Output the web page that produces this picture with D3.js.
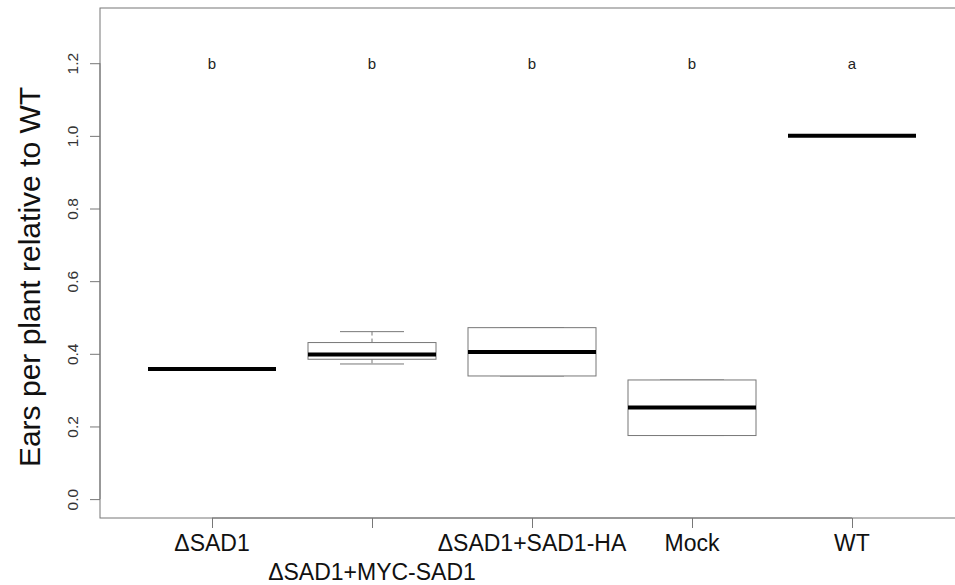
<!DOCTYPE html>
<html><head><meta charset="utf-8">
<script src="https://cdn.jsdelivr.net/npm/d3@7"></script>
<style>body{margin:0;background:#fff}svg{display:block}</style>
</head><body>
<svg id="c" width="955" height="585"></svg>
<script>
const categories = ["ΔSAD1","ΔSAD1+MYC-SAD1","ΔSAD1+SAD1-HA","Mock","WT"];
const whiskerLow = [0.358, 0.372, 0.339, 0.175, 1.0];
const q1 =        [0.358, 0.385, 0.339, 0.175, 1.0];
const median =    [0.358, 0.398, 0.405, 0.252, 1.0];
const q3 =        [0.358, 0.431, 0.472, 0.328, 1.0];
const whiskerHigh=[0.358, 0.461, 0.472, 0.328, 1.0];
const letters = ["b","b","b","b","a"];
const yTicks = [0, 0.2, 0.4, 0.6, 0.8, 1.0, 1.2];

const svg = d3.select("#c");
const L = 100, T = 8, B = 518;
const unit = 160;
const x = d3.scaleLinear().domain([0.3, 5.7]).range([L, L + 5.4*unit]);
const y = d3.scaleLinear().domain([-0.052, 1.352]).range([B, T]);
const gray = "#777";
const font = "Liberation Sans, Arial, Helvetica, sans-serif";

// plot frame
svg.append("rect").attr("x", x(0.3)).attr("y", y(1.352)).attr("width", x(5.7)-x(0.3)).attr("height", y(-0.052)-y(1.352))
  .attr("fill","none").attr("stroke", gray).attr("stroke-width",1);

// y axis
const yAxis = d3.axisLeft(y).tickValues(yTicks).tickFormat(d3.format(".1f")).tickSize(10);
const gy = svg.append("g").attr("transform", `translate(${L},0)`).call(yAxis);
gy.select(".domain").attr("stroke", gray).attr("d", `M0,${y(0)}V${y(1.2)}`);
gy.selectAll(".tick line").attr("stroke", gray);
gy.selectAll(".tick text").attr("fill","#333").style("font-family", font).style("font-size","15.5px")
  .attr("x", 0).attr("y", 0).attr("dy", null).attr("text-anchor","middle")
  .attr("transform", "translate(-22,0) rotate(-90)");

// x axis
const idx = categories.map((c,i)=>i+1);
const xAxis = d3.axisBottom(x).tickValues(idx).tickFormat(()=>"").tickSize(10);
const gx = svg.append("g").attr("transform", `translate(0,${B})`).call(xAxis);
gx.select(".domain").attr("d", `M${x(1)},0H${x(5)}`).attr("stroke", gray);
gx.selectAll(".tick line").attr("stroke", gray);
categories.forEach((c,i)=>{
  svg.append("text").attr("x", x(i+1)).attr("y", i===1 ? 580 : 551)
    .attr("text-anchor","middle").attr("fill","#111").style("font-family",font).style("font-size","23px").text(c);
});

// y title
svg.append("text").attr("transform", `translate(40,${(T+B)/2+14}) rotate(-90)`).attr("text-anchor","middle")
  .attr("fill","#111").style("font-family",font).style("font-size","30px").text("Ears per plant relative to WT");

// boxes
const bw = 0.8, sw = 0.4;
categories.forEach((c,i)=>{
  const cx = i+1;
  const g = svg.append("g");
  g.append("line").attr("x1",x(cx)).attr("x2",x(cx)).attr("y1",y(q3[i])).attr("y2",y(whiskerHigh[i]))
    .attr("stroke",gray).attr("stroke-dasharray","4,3");
  g.append("line").attr("x1",x(cx)).attr("x2",x(cx)).attr("y1",y(q1[i])).attr("y2",y(whiskerLow[i]))
    .attr("stroke",gray).attr("stroke-dasharray","4,3");
  g.append("line").attr("x1",x(cx-sw/2)).attr("x2",x(cx+sw/2)).attr("y1",y(whiskerHigh[i])).attr("y2",y(whiskerHigh[i])).attr("stroke",gray);
  g.append("line").attr("x1",x(cx-sw/2)).attr("x2",x(cx+sw/2)).attr("y1",y(whiskerLow[i])).attr("y2",y(whiskerLow[i])).attr("stroke",gray);
  g.append("rect").attr("x",x(cx-bw/2)).attr("width",x(cx+bw/2)-x(cx-bw/2))
    .attr("y",y(q3[i])).attr("height",Math.max(0,y(q1[i])-y(q3[i]))).attr("fill","#fff").attr("stroke",gray);
  g.append("line").attr("x1",x(cx-bw/2)).attr("x2",x(cx+bw/2)).attr("y1",y(median[i])).attr("y2",y(median[i]))
    .attr("stroke","#000").attr("stroke-width",4);
  svg.append("text").attr("x",x(cx)).attr("y",y(1.2)+6).attr("text-anchor","middle").attr("fill","#222")
    .style("font-family",font).style("font-size","15px").text(letters[i]);
});
</script>
</body></html>
